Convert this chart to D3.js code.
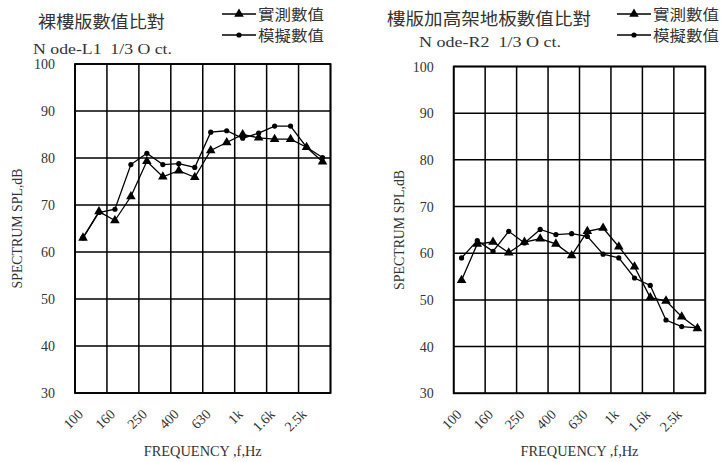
<!DOCTYPE html>
<html><head><meta charset="utf-8">
<script src="https://cdn.jsdelivr.net/npm/d3@7"></script>
<style>
body{margin:0;background:#fff;}
svg text{white-space:pre;}
</style></head>
<body><svg id="c" width="722" height="462"></svg>
<script>
const categories = ["100","125","160","200","250","315","400","500","630","800","1k","1.25k","1.6k","2k","2.5k","3.15k"];
const tickLabels = ["100","160","250","400","630","1k","1.6k","2.5k"];
const yTicks = [30,40,50,60,70,80,90,100];
const leftMeasured   = [63.0, 68.6, 66.7, 71.8, 79.3, 76.0, 77.3, 75.9, 81.6, 83.3, 85.0, 84.3, 84.0, 84.0, 82.3, 79.2];
const leftSimulated  = [63.0, 68.4, 69.1, 78.6, 81.0, 78.6, 78.8, 78.0, 85.5, 85.8, 84.2, 85.3, 86.8, 86.8, 82.3, 80.1];
const rightMeasured  = [54.2, 62.0, 62.4, 60.1, 62.4, 63.1, 62.0, 59.5, 64.7, 65.4, 61.4, 57.1, 50.5, 49.8, 46.4, 43.9];
const rightSimulated = [59.0, 62.7, 60.4, 64.7, 62.2, 65.1, 64.0, 64.2, 63.6, 59.8, 59.0, 54.7, 53.1, 45.7, 44.3, 44.0];
const legendLabels = ["實測數值","模擬數值"];

const svg = d3.select("#c");
const serif = "'Liberation Serif', 'DejaVu Serif', serif";
const cjk = "'Noto Sans CJK TC', 'Noto Sans CJK SC', sans-serif";

const charts = [
  {title:"裸樓版數值比對", titleX:38, titleY:28, titleLen:127, sub:"N ode-L1  1/3 O ct.", subX:33, subLen:139, subY:54,
   x0:75, x1:330.5, y0:64, y1:393, legX:222, measured:leftMeasured, simulated:leftSimulated, yTitleX:16},
  {title:"樓版加高架地板數值比對", titleX:387, titleY:25, titleLen:204, sub:"N ode-R2  1/3 O ct.", subX:419, subLen:142, subY:47,
   x0:453.7, x1:705.3, y0:66.5, y1:393.3, legX:617, measured:rightMeasured, simulated:rightSimulated, yTitleX:398}
];

charts.forEach(c => {
  const g = svg.append("g");
  const x = d3.scaleBand().domain(categories).range([c.x0, c.x1]);
  const y = d3.scaleLinear().domain([30,100]).range([c.y1, c.y0]);
  const bw = x.bandwidth();

  g.selectAll(".hg").data(yTicks).join("line")
    .attr("x1", c.x0).attr("x2", c.x1).attr("y1", d=>y(d)).attr("y2", d=>y(d))
    .attr("stroke","#000").attr("stroke-width",1.5);
  const vlines = categories.filter((d,i)=>i%2===0).map(d=>x(d)).concat([c.x1]);
  g.selectAll(".vg").data(vlines).join("line")
    .attr("x1", d=>d).attr("x2", d=>d).attr("y1", c.y0).attr("y2", c.y1)
    .attr("stroke","#000").attr("stroke-width",1.5);
  g.append("rect").attr("x",c.x0).attr("y",c.y0).attr("width",c.x1-c.x0).attr("height",c.y1-c.y0)
    .attr("fill","none").attr("stroke","#000").attr("stroke-width",1.8);

  g.selectAll(".yt").data(yTicks).join("text")
    .attr("x", c.x0-20).attr("y", d=>y(d)+5)
    .attr("text-anchor","end").attr("font-family",serif).attr("font-size",14).attr("fill","#333")
    .text(d=>d);

  g.selectAll(".xt").data(tickLabels).join("text")
    .attr("transform", d=>`translate(${x(d)+bw/2+1},${c.y1+22}) rotate(-45)`)
    .attr("text-anchor","end").attr("font-family",serif).attr("font-size",14).attr("fill","#333")
    .text(d=>d);

  g.append("text").attr("x",(c.x0+c.x1)/2).attr("y",456)
    .attr("text-anchor","middle").attr("font-family",serif).attr("font-size",15).attr("fill","#333")
    .attr("textLength",118).attr("lengthAdjust","spacingAndGlyphs")
    .text("FREQUENCY ,f,Hz");
  g.append("text").attr("transform",`translate(${c.yTitleX+6},${(c.y0+c.y1)/2}) rotate(-90)`)
    .attr("text-anchor","middle").attr("font-family",serif).attr("font-size",15).attr("fill","#333")
    .attr("textLength",120).attr("lengthAdjust","spacingAndGlyphs")
    .text("SPECTRUM SPL,dB");

  g.append("text").attr("x",c.titleX).attr("y",c.titleY).attr("font-family",cjk).attr("font-size",17).attr("fill","#333")
    .attr("textLength",c.titleLen).attr("lengthAdjust","spacingAndGlyphs").text(c.title);
  g.append("text").attr("x",c.subX).attr("y",c.subY).attr("font-family",serif).attr("font-size",15).attr("fill","#333")
    .attr("textLength",c.subLen).attr("lengthAdjust","spacingAndGlyphs").text(c.sub);

  const line = d3.line().x((d,i)=>x(categories[i])+bw/2).y(d=>y(d));
  [c.simulated, c.measured].forEach(s=>{
    g.append("path").attr("d",line(s)).attr("fill","none").attr("stroke","#000").attr("stroke-width",1.3);
  });
  const tri = d3.symbol().type(d3.symbolTriangle).size(40);
  g.selectAll(".sim").data(c.simulated).join("circle")
    .attr("cx",(d,i)=>x(categories[i])+bw/2).attr("cy",d=>y(d)).attr("r",2.6).attr("fill","#000");
  g.selectAll(".mea").data(c.measured).join("path")
    .attr("d",tri).attr("transform",(d,i)=>`translate(${x(categories[i])+bw/2},${y(d)})`).attr("fill","#000");

  const ly = [14, 35];
  legendLabels.forEach((lab,k)=>{
    g.append("line").attr("x1",c.legX).attr("x2",c.legX+34).attr("y1",ly[k]).attr("y2",ly[k])
      .attr("stroke","#000").attr("stroke-width",1.3);
    if(k===0) g.append("path").attr("d",tri).attr("transform",`translate(${c.legX+17},${ly[k]})`).attr("fill","#000");
    else g.append("circle").attr("cx",c.legX+17).attr("cy",ly[k]).attr("r",2.6).attr("fill","#000");
    g.append("text").attr("x",c.legX+36).attr("y",ly[k]+5.5).attr("font-family",cjk).attr("font-size",15).attr("fill","#333")
      .attr("textLength",66).attr("lengthAdjust","spacingAndGlyphs").text(lab);
  });
});
</script></body></html>
